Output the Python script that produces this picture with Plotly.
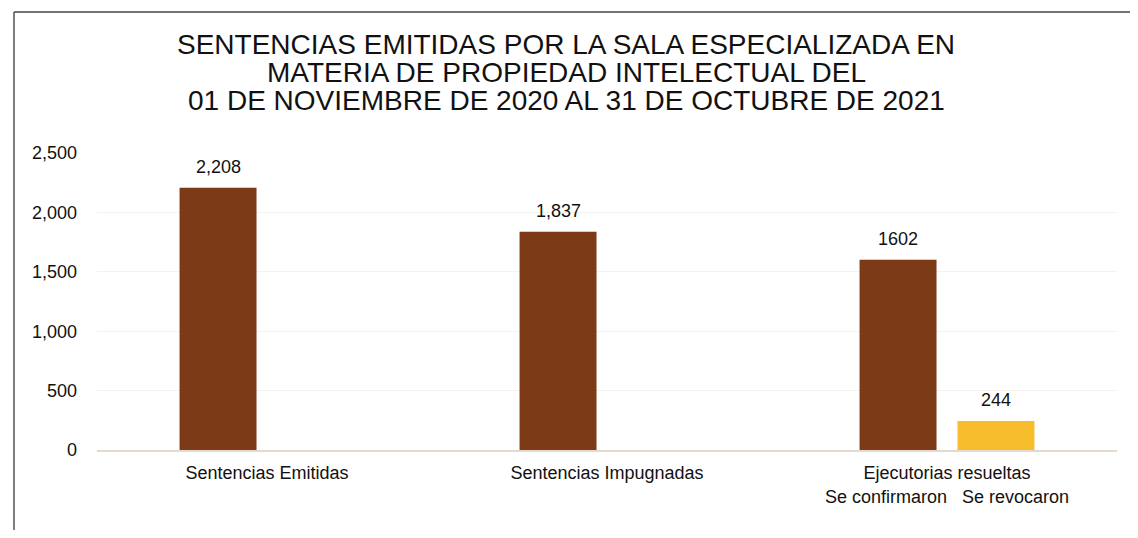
import plotly.graph_objects as go

categories = ["Sentencias Emitidas", "Sentencias Impugnadas", "Ejecutorias resueltas"]
tick_labels = ["Sentencias Emitidas", "Sentencias Impugnadas",
               "Ejecutorias resueltas<br>Se confirmaron   Se revocaron"]
main_values = [2208, 1837, 1602]
main_text = ["2,208", "1,837", "1602"]
second_values = [None, None, 244]
second_text = ["", "", "244"]
y_ticks = [0, 500, 1000, 1500, 2000, 2500]
y_tick_labels = ["0", "500", "1,000", "1,500", "2,000", "2,500"]
title_lines = ["SENTENCIAS EMITIDAS POR LA SALA ESPECIALIZADA EN",
               "MATERIA DE PROPIEDAD INTELECTUAL DEL",
               "01 DE NOVIEMBRE DE 2020 AL 31 DE OCTUBRE DE 2021"]

FONT = "Liberation Sans, Arial, sans-serif"
W, H = 1122, 522
L, R, T, B = 89, 13, 145, 80
pw = W - L - R
ph = H - T - B


def px(x):
    return (x - L) / pw


def py(y):
    return (H - B - y) / ph


fig = go.Figure()
fig.add_trace(go.Bar(x=categories, y=main_values,
                     marker=dict(color="#7d3a16", line=dict(width=0)),
                     name="Se confirmaron", offsetgroup="a"))
fig.add_trace(go.Bar(x=categories, y=second_values,
                     marker=dict(color="#f7bd2c", line=dict(width=0)),
                     name="Se revocaron", offsetgroup="b"))

# data labels above bars
for cat, val, txt in zip(categories, main_values, main_text):
    fig.add_annotation(x=cat, y=val, text=txt, showarrow=False,
                       xref="x", yref="y", xshift=-49, yshift=9,
                       yanchor="bottom",
                       font=dict(size=18, color="#111111", family=FONT))
for cat, val, txt in zip(categories, second_values, second_text):
    if val is not None:
        fig.add_annotation(x=cat, y=val, text=txt, showarrow=False,
                           xref="x", yref="y", xshift=49, yshift=9,
                           yanchor="bottom",
                           font=dict(size=18, color="#111111", family=FONT))

# title lines
for i, line in enumerate(title_lines):
    fig.add_annotation(text=line, showarrow=False, xref="paper", yref="paper",
                       x=px(558), y=py(36 + i * 28.5), xanchor="center",
                       yanchor="middle",
                       font=dict(size=28, color="#111111", family=FONT))

fig.update_layout(
    width=W, height=H,
    margin=dict(l=L, r=R, t=T, b=B),
    paper_bgcolor="white", plot_bgcolor="white",
    showlegend=False,
    barmode="group", bargap=0.424, bargroupgap=0.214,
    font=dict(family=FONT, color="#111111"),
)
fig.update_xaxes(tickvals=categories, ticktext=tick_labels,
                 showline=True, linecolor="#e2d9d0", linewidth=1.5,
                 showgrid=False, ticks="", ticklabelstandoff=6,
                 tickfont=dict(size=18, color="#111111"))
fig.update_yaxes(range=[0, 2500], tickvals=y_ticks, ticktext=y_tick_labels,
                 showgrid=True, gridcolor="#f5f1ec", gridwidth=1,
                 zeroline=False, showline=False, ticks="",
                 ticklabelstandoff=19,
                 tickfont=dict(size=18, color="#111111"))

# outer frame (left and top lines)
fig.add_shape(type="line", xref="paper", yref="paper",
              x0=px(6), x1=px(6), y0=py(4), y1=py(H),
              line=dict(color="#555555", width=1.5))
fig.add_shape(type="line", xref="paper", yref="paper",
              x0=px(6), x1=px(W), y0=py(4), y1=py(4),
              line=dict(color="#444444", width=1.5))

fig.write_html("out.html")
